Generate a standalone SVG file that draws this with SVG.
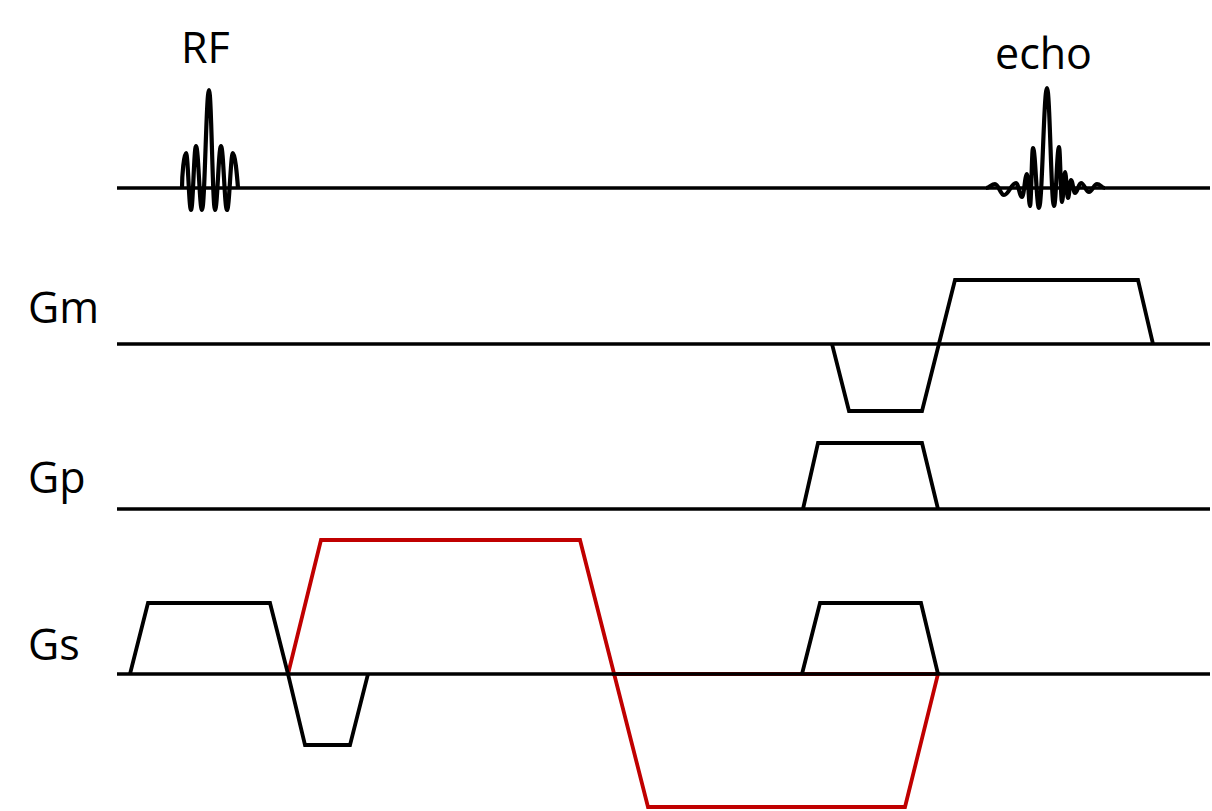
<svg xmlns="http://www.w3.org/2000/svg" width="1212" height="811" viewBox="0 0 1212 811">
<style>
.lbl{font-family:"Open Sans","Liberation Sans",sans-serif;font-size:43px;fill:#000}
.base{stroke:#000;stroke-width:3.5;fill:none}
.wave{stroke:#000;stroke-width:3.8;fill:none;stroke-linejoin:miter}
.red{stroke:#C00000;stroke-width:3.8;fill:none;stroke-linejoin:miter}
.pulse{stroke:#000;stroke-width:4.2;fill:none;stroke-linejoin:round}
</style>
<rect width="1212" height="811" fill="#fff"/>
<g id="rf">
<text class="lbl" x="181" y="63">RF</text>
<text class="lbl" x="995" y="69">echo</text>
<line class="base" x1="117" y1="188" x2="1210" y2="188"/>
<path class="pulse" d="M182,188 C182,175 184,153 186,153 C188,153 189,210 191,210 C193,210 194,146 196,146 C198.4,146 199.6,210 202,210 C204.8,210 206.2,90 209,90 C211.4,90 212.6,210 215,210 C217.4,210 218.6,146 221,146 C223.4,146 224.6,210 227,210 C229.4,210 230.6,153 233,153 C235,153 237,175 238,188"/>
<path class="pulse" d="M986,188 C989.6,188 991.4,184 995,184 C998.6,184 1000.4,195 1004,195 C1008.8,195 1011.2,183 1016,183 C1018.4,183 1019.6,197 1022,197 C1024,197 1025,174 1027,174 C1028.2,174 1028.8,206 1030,206 C1031.2,206 1031.8,148 1033,148 C1035.4,148 1036.6,208 1039,208 C1042.2,208 1043.8,88 1047,88 C1049.8,88 1051.2,206 1054,206 C1056,206 1057,147 1059,147 C1060.2,147 1060.8,202 1062,202 C1063.2,202 1063.8,172 1065,172 C1066.2,172 1066.8,198 1068,198 C1069.2,198 1069.8,180 1071,180 C1072.6,180 1073.4,193 1075,193 C1077.4,193 1078.6,183 1081,183 C1084.2,183 1085.8,192 1089,192 C1092.2,192 1093.8,184 1097,184 C1100.2,184 1101.8,188 1105,188"/>
</g>
<g id="gm">
<text class="lbl" x="28" y="323">Gm</text>
<line class="base" x1="117" y1="344" x2="1210" y2="344"/>
<polyline class="wave" points="832,344 849,411 922,411 955,280 1138,280 1153,344"/>
</g>
<g id="gp">
<text class="lbl" x="28" y="493">Gp</text>
<line class="base" x1="117" y1="509" x2="1210" y2="509"/>
<polyline class="wave" points="803,509 818,443 922,443 938,509"/>
</g>
<g id="gs">
<text class="lbl" x="28" y="660">Gs</text>
<polyline class="red" points="288,674 321,540 580,540 648,807 905,807 938,674 612,674"/>
<line class="base" x1="117" y1="674" x2="1210" y2="674"/>
<polyline class="wave" points="130,674 148,603 270,603 288,674 305,745 350,745 368,674"/>
<polyline class="wave" points="802,674 820,603 921,603 938,674"/>
</g>
</svg>
